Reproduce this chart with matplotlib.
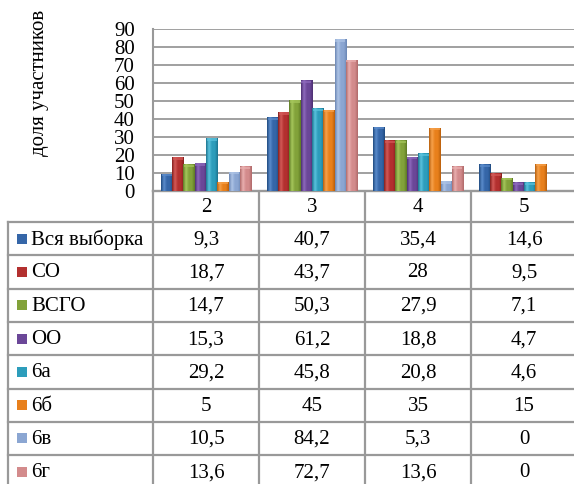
import numpy as np
import matplotlib
matplotlib.use("Agg")
import matplotlib.pyplot as plt
from matplotlib.colors import LinearSegmentedColormap

# data
categories = ["2", "3", "4", "5"]
series_names = ["Вся выборка", "СО", "ВСГО", "ОО", "6а", "6б", "6в", "6г"]
vsya = [9.3, 40.7, 35.4, 14.6]
so = [18.7, 43.7, 28, 9.5]
vsgo = [14.7, 50.3, 27.9, 7.1]
oo = [15.3, 61.2, 18.8, 4.7]
s6a = [29.2, 45.8, 20.8, 4.6]
s6b = [5, 45, 35, 15]
s6v = [10.5, 84.2, 5.3, 0]
s6g = [13.6, 72.7, 13.6, 0]
values = [vsya, so, vsgo, oo, s6a, s6b, s6v, s6g]
value_labels = [
    ["9,3", "40,7", "35,4", "14,6"],
    ["18,7", "43,7", "28", "9,5"],
    ["14,7", "50,3", "27,9", "7,1"],
    ["15,3", "61,2", "18,8", "4,7"],
    ["29,2", "45,8", "20,8", "4,6"],
    ["5", "45", "35", "15"],
    ["10,5", "84,2", "5,3", "0"],
    ["13,6", "72,7", "13,6", "0"],
]

base_colors = ["#3566a8", "#b3302f", "#82a23a", "#6b4798", "#2d9dbb", "#e8801c", "#8ba6d2", "#d38b8c"]
dark_colors = ["#1f4a80", "#85201f", "#5e7a24", "#4d3072", "#1c7590", "#b85f0c", "#6a86b4", "#b06a6a"]
light_colors = ["#5b8ccc", "#d45a58", "#a6c75c", "#8e6abd", "#5bc3de", "#f7a24c", "#aec4e6", "#eab0b0"]

plt.rcParams["font.family"] = ["Liberation Serif", "DejaVu Serif"]
W, H = 574, 484
fig = plt.figure(figsize=(W / 100, H / 100), dpi=100)
fs = 15

# pixel geometry of the plot area
px_left, px_right, px_top, px_zero = 153, 577, 29, 191
ax = fig.add_axes([px_left / W, 1 - px_zero / H, (px_right - px_left) / W, (px_zero - px_top) / H])

n = len(values)
x = np.arange(len(categories))
bw = 0.85 / n
for i, (vals, c0, cd, cl) in enumerate(zip(values, base_colors, dark_colors, light_colors)):
    bars = ax.bar(x - 0.425 + bw * (i + 0.5), vals, bw, color=c0, zorder=3, linewidth=0)
    cmap = LinearSegmentedColormap.from_list("b%d" % i, [cd, cl, c0, c0, cd])
    for r in bars:
        h = r.get_height()
        if h <= 0:
            continue
        grad = np.linspace(0, 1, 64).reshape(1, -1)
        ax.imshow(grad, extent=[r.get_x(), r.get_x() + r.get_width(), 0, h],
                  cmap=cmap, aspect="auto", zorder=3.5, interpolation="bilinear")
        cap = min(1.2, h)
        ax.bar(r.get_x() + r.get_width() / 2, cap, r.get_width() * 0.9, bottom=h - cap,
               color=cl, alpha=0.7, zorder=4, linewidth=0)

ax.set_xlim(-0.5, 3.5)
ax.set_ylim(0, 90)
ax.set_yticks(range(0, 91, 10))
ax.set_yticklabels([str(v) for v in range(0, 91, 10)], fontsize=fs)
ax.tick_params(axis="y", length=0, pad=13)
ax.set_xticks([])
ax.grid(axis="y", color="#a0a0a0", linewidth=1.4, zorder=0)
ax.set_axisbelow(True)
for s in ["top", "right"]:
    ax.spines[s].set_visible(False)
ax.spines["left"].set_color("#999999")
ax.spines["left"].set_linewidth(1.5)
ax.spines["bottom"].set_color("#999999")
ax.spines["bottom"].set_linewidth(1.7)

fig.text(40 / W, 1 - 83 / H, "доля участников", rotation=90, ha="center", va="center",
         fontsize=fs)

# data table below the chart
tb = fig.add_axes([0, 0, 1, 1], zorder=-1)
tb.set_xlim(0, W)
tb.set_ylim(H, 0)
tb.axis("off")
line_c = "#999999"
lw = 1.6
col_edges = [px_left + (px_right - px_left) / 4 * k for k in range(5)]
row_h = 33.3
row_top = 222
n_rows = len(series_names)
table_bottom = row_top + row_h * n_rows
# vertical lines
tb.plot([8, 8], [row_top, table_bottom], color=line_c, lw=lw)
for xe in col_edges:
    tb.plot([xe, xe], [px_zero, table_bottom], color=line_c, lw=lw)
# horizontal lines
for k in range(n_rows + 1):
    yy = row_top + row_h * k
    tb.plot([8, px_right], [yy, yy], color=line_c, lw=lw)
# header
for k, cat in enumerate(categories):
    tb.text((col_edges[k] + col_edges[k + 1]) / 2, (px_zero + row_top) / 2 + 1, cat,
            ha="center", va="center", fontsize=fs)
# rows
for r, name in enumerate(series_names):
    yc = row_top + row_h * (r + 0.5)
    tb.add_patch(plt.Rectangle((16.7, yc - 5), 10, 10, color=base_colors[r], lw=0))
    tb.text(31, yc + 1, name, ha="left", va="center", fontsize=fs)
    for k in range(len(categories)):
        tb.text((col_edges[k] + col_edges[k + 1]) / 2, yc + 1, value_labels[r][k],
                ha="center", va="center", fontsize=fs)

fig.savefig("out.png", dpi=100)
